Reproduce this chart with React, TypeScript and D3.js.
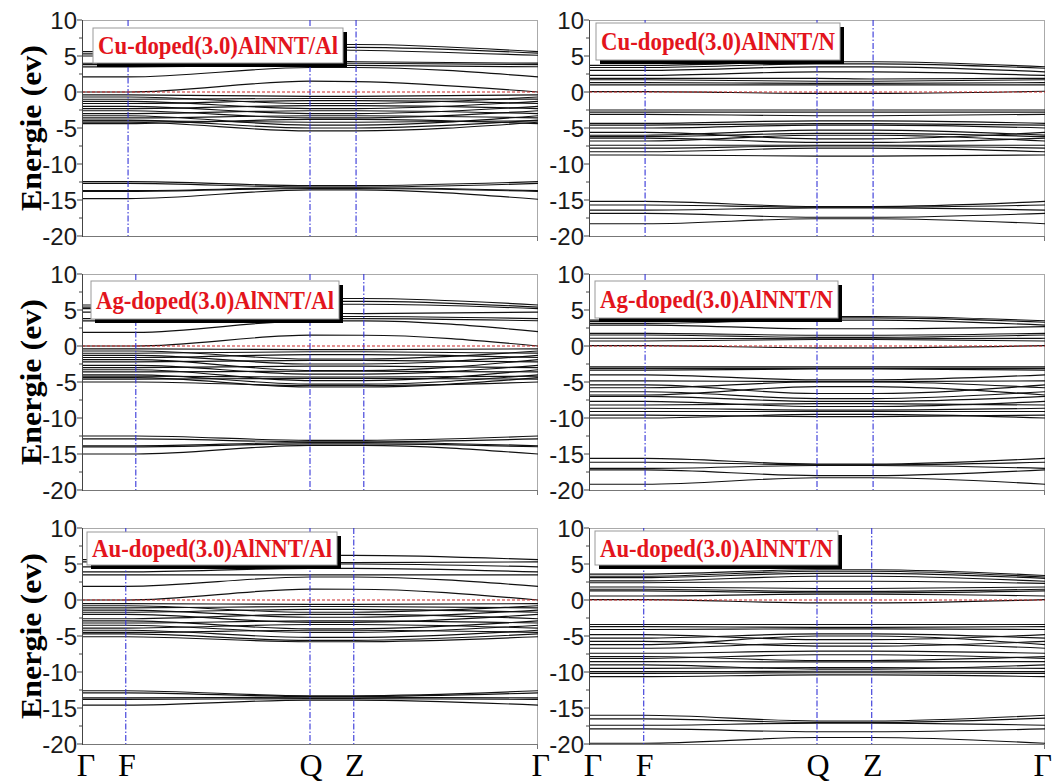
import React from 'react';
import * as d3 from 'd3';

// ---------- data ----------
const kLabels = ['Γ', 'F', 'Q', 'Z', 'Γ'];
const yTicksMajor = [10, 5, 0, -5, -10, -15, -20];
const yTicksMinor = [7.5, 2.5, -2.5, -7.5, -12.5, -17.5];
const yTitle = 'Energie (ev)';

const panelTitles = [
  'Cu-doped(3.0)AlNNT/Al',
  'Cu-doped(3.0)AlNNT/N',
  'Ag-doped(3.0)AlNNT/Al',
  'Ag-doped(3.0)AlNNT/N',
  'Au-doped(3.0)AlNNT/Al',
  'Au-doped(3.0)AlNNT/N',
];

// fractional k positions of Γ, F, Q, Z, Γ per panel
const kPosCuAl = [0, 0.101, 0.5, 0.601, 1];
const kPosCuN = [0, 0.123, 0.5, 0.623, 1];
const kPosAgAl = [0, 0.118, 0.5, 0.618, 1];
const kPosAgN = [0, 0.123, 0.5, 0.623, 1];
const kPosAuAl = [0, 0.096, 0.5, 0.596, 1];
const kPosAuN = [0, 0.12, 0.5, 0.62, 1];

// band energies (eV) at Γ, F, Q, Z, Γ
const bandsCuAl = [
  [5.6, 5.6, 6.6, 6.6, 5.6], [5.3, 5.3, 6.2, 6.2, 5.4], [5.0, 5.0, 5.9, 5.8, 5.1],
  [4.0, 4.0, 4.3, 4.2, 4.0], [3.8, 3.8, 4.0, 4.0, 3.8], [3.5, 3.5, 3.7, 3.7, 3.5],
  [2.1, 2.1, 3.4, 3.4, 2.1], [0.0, 0.0, 1.5, 1.45, 0.0],
  [-0.4, -0.4, -0.6, -0.6, -0.4], [-0.7, -0.7, -1.6, -1.6, -0.7], [-1.0, -1.0, -0.9, -0.9, -1.0],
  [-1.3, -1.3, -2.3, -2.3, -1.3], [-1.6, -1.6, -1.2, -1.2, -1.6], [-2.0, -2.0, -3.0, -3.0, -2.0],
  [-2.3, -2.3, -1.9, -1.9, -2.3], [-2.6, -2.6, -3.6, -3.6, -2.6], [-3.0, -3.0, -2.6, -2.6, -3.0],
  [-3.3, -3.3, -4.6, -4.6, -3.3], [-3.6, -3.6, -3.3, -3.3, -3.6], [-3.9, -3.9, -5.0, -5.0, -3.9],
  [-4.0, -4.0, -4.2, -4.2, -4.0], [-4.2, -4.2, -5.4, -5.4, -4.2], [-4.4, -4.4, -3.8, -3.8, -4.4],
  [-12.45, -12.45, -13.0, -13.0, -12.45], [-12.7, -12.7, -13.2, -13.2, -12.7],
  [-13.7, -13.7, -13.3, -13.3, -13.7], [-13.8, -13.8, -13.4, -13.4, -13.8],
  [-14.8, -14.8, -13.6, -13.6, -14.9],
];

const bandsCuN = [
  [3.7, 3.7, 4.2, 4.2, 3.5], [3.4, 3.4, 3.9, 3.9, 3.3], [3.0, 3.0, 3.5, 3.5, 2.8],
  [2.3, 2.3, 2.8, 2.8, 2.3], [1.9, 1.9, 1.9, 1.8, 1.9], [1.7, 1.7, 1.5, 1.5, 1.7],
  [1.3, 1.3, 1.2, 1.2, 1.3], [1.0, 1.0, 1.0, 1.0, 1.0], [0.05, 0.05, -0.2, -0.2, 0.1],
  [-2.5, -2.5, -2.5, -2.5, -2.5], [-2.8, -2.8, -2.8, -2.8, -2.8], [-3.1, -3.1, -3.3, -3.3, -3.1],
  [-4.35, -4.35, -4.0, -4.0, -4.35], [-4.6, -4.6, -4.4, -4.4, -4.6], [-5.0, -5.0, -4.6, -4.6, -5.0],
  [-5.6, -5.6, -6.5, -6.5, -5.6], [-6.0, -6.0, -5.3, -5.3, -6.0], [-6.2, -6.2, -5.75, -5.75, -6.2],
  [-6.4, -6.4, -7.0, -7.0, -6.4], [-6.8, -6.8, -6.0, -6.0, -6.8], [-7.4, -7.4, -7.4, -7.4, -7.4],
  [-7.8, -7.8, -7.5, -7.5, -7.8], [-8.3, -8.3, -7.8, -7.8, -8.3], [-8.75, -8.75, -8.9, -8.9, -8.75],
  [-15.2, -15.2, -15.9, -15.9, -15.2], [-15.7, -15.7, -16.0, -16.0, -15.7],
  [-16.4, -16.4, -16.1, -16.1, -16.4], [-16.85, -16.85, -17.4, -17.4, -16.85],
  [-18.3, -18.3, -17.6, -17.6, -18.3],
];

const bandsAgAl = [
  [5.7, 5.7, 6.6, 6.6, 5.7], [5.4, 5.4, 6.2, 6.2, 5.4], [5.2, 5.2, 5.8, 5.8, 5.2],
  [4.7, 4.7, 4.6, 4.5, 4.7], [3.8, 3.8, 4.1, 4.1, 3.8], [3.5, 3.5, 3.8, 3.8, 3.5],
  [1.9, 1.9, 3.5, 3.5, 2.0], [0.0, 0.0, 1.5, 1.5, 0.0],
  [-0.4, -0.4, -0.5, -0.5, -0.4], [-0.7, -0.7, -1.8, -1.8, -0.7], [-1.0, -1.0, -0.8, -0.8, -1.0],
  [-1.3, -1.3, -2.5, -2.5, -1.3], [-1.6, -1.6, -1.2, -1.2, -1.6], [-1.9, -1.9, -3.4, -3.4, -1.9],
  [-2.2, -2.2, -2.0, -2.0, -2.2], [-2.7, -2.7, -3.9, -3.9, -2.7], [-3.0, -3.0, -2.8, -2.8, -3.0],
  [-3.3, -3.3, -4.8, -4.8, -3.3], [-3.6, -3.6, -3.5, -3.5, -3.6], [-4.0, -4.0, -5.3, -5.3, -4.0],
  [-4.2, -4.2, -4.3, -4.3, -4.2], [-4.4, -4.4, -5.7, -5.7, -4.4], [-4.6, -4.6, -4.5, -4.5, -4.6],
  [-5.0, -5.0, -5.5, -5.5, -5.0],
  [-12.5, -12.5, -13.1, -13.1, -12.5], [-12.9, -12.9, -13.3, -13.3, -12.9],
  [-13.85, -13.85, -13.4, -13.4, -13.85], [-14.0, -14.0, -13.6, -13.6, -14.0],
  [-15.0, -15.0, -13.8, -13.8, -15.0],
];

const bandsAgN = [
  [3.6, 3.6, 4.1, 4.1, 3.5], [3.4, 3.4, 3.9, 3.9, 3.3], [3.15, 3.15, 3.6, 3.6, 2.9],
  [2.9, 2.9, 2.4, 2.4, 2.7], [1.76, 1.76, 1.5, 1.5, 1.76], [1.53, 1.53, 1.2, 1.2, 1.53],
  [1.07, 1.07, 1.0, 1.0, 1.07], [0.7, 0.7, 0.9, 0.9, 0.7], [0.05, 0.05, -0.25, -0.25, 0.05],
  [-2.9, -2.9, -2.9, -2.9, -2.9], [-3.1, -3.1, -3.1, -3.1, -3.1], [-3.35, -3.35, -3.2, -3.2, -3.35],
  [-4.0, -4.0, -4.7, -4.7, -4.0], [-4.85, -4.85, -4.95, -4.95, -4.85], [-5.4, -5.4, -6.6, -6.6, -5.4],
  [-5.8, -5.8, -5.0, -5.0, -5.8], [-6.35, -6.35, -7.3, -7.3, -6.35], [-6.8, -6.8, -5.65, -5.65, -6.8],
  [-7.0, -7.0, -7.7, -7.7, -7.0], [-7.7, -7.7, -8.4, -8.4, -7.7], [-8.2, -8.2, -8.0, -8.0, -8.2],
  [-8.65, -8.65, -8.9, -8.9, -8.65], [-9.1, -9.1, -9.1, -9.1, -9.1], [-9.6, -9.6, -9.8, -9.8, -9.6],
  [-10.0, -10.0, -9.5, -9.5, -10.0],
  [-15.6, -15.6, -16.4, -16.4, -15.6], [-16.15, -16.15, -16.5, -16.5, -16.15],
  [-17.0, -17.0, -16.6, -16.6, -17.0], [-17.2, -17.2, -18.0, -18.0, -17.2],
  [-19.2, -19.2, -18.3, -18.3, -19.2],
];

const bandsAuAl = [
  [5.6, 5.6, 6.2, 6.2, 5.6], [5.3, 5.3, 5.2, 5.2, 5.3], [4.6, 4.6, 5.0, 5.0, 4.6],
  [3.9, 3.9, 4.4, 4.4, 3.9], [3.5, 3.5, 3.5, 3.5, 3.5], [1.9, 1.9, 3.2, 3.2, 1.9],
  [0.0, 0.0, 1.5, 1.5, 0.0],
  [-0.5, -0.5, -0.6, -0.6, -0.5], [-0.8, -0.8, -1.7, -1.7, -0.8], [-1.1, -1.1, -0.9, -0.9, -1.1],
  [-1.4, -1.4, -2.4, -2.4, -1.4], [-1.7, -1.7, -1.3, -1.3, -1.7], [-2.0, -2.0, -3.1, -3.1, -2.0],
  [-2.6, -2.6, -2.0, -2.0, -2.6], [-2.9, -2.9, -4.0, -4.0, -2.9], [-3.2, -3.2, -2.9, -2.9, -3.2],
  [-3.5, -3.5, -4.5, -4.5, -3.5], [-3.9, -3.9, -3.4, -3.4, -3.9], [-4.2, -4.2, -5.2, -5.2, -4.2],
  [-4.5, -4.5, -4.2, -4.2, -4.5], [-4.7, -4.7, -5.6, -5.6, -4.7], [-5.1, -5.1, -5.8, -5.8, -5.1],
  [-12.6, -12.6, -13.3, -13.3, -12.6], [-12.9, -12.9, -13.4, -13.4, -12.9],
  [-13.6, -13.6, -13.5, -13.5, -13.6], [-13.8, -13.8, -13.7, -13.7, -13.8],
  [-14.6, -14.6, -13.9, -13.9, -14.6],
];

const bandsAuN = [
  [3.6, 3.6, 4.2, 4.2, 3.4], [3.3, 3.3, 4.0, 4.0, 3.2], [3.1, 3.1, 3.7, 3.7, 3.0],
  [2.66, 2.66, 3.3, 3.3, 2.6], [2.4, 2.4, 2.6, 2.6, 2.3], [1.8, 1.8, 1.6, 1.6, 1.8],
  [1.5, 1.5, 1.2, 1.2, 1.5], [1.26, 1.26, 1.0, 1.0, 1.26], [0.56, 0.56, 0.8, 0.8, 0.56],
  [0.05, 0.05, -0.4, -0.4, 0.05],
  [-3.4, -3.4, -3.4, -3.4, -3.4], [-3.7, -3.7, -3.8, -3.8, -3.7], [-4.1, -4.1, -4.0, -4.0, -4.1],
  [-4.8, -4.8, -5.5, -5.5, -4.8], [-5.3, -5.3, -4.7, -4.7, -5.3], [-5.75, -5.75, -6.4, -6.4, -5.75],
  [-6.2, -6.2, -5.0, -5.0, -6.2], [-6.7, -6.7, -6.0, -6.0, -6.7], [-7.4, -7.4, -7.1, -7.1, -7.4],
  [-7.85, -7.85, -8.4, -8.4, -7.85], [-8.1, -8.1, -7.6, -7.6, -8.1], [-8.55, -8.55, -8.6, -8.6, -8.55],
  [-9.0, -9.0, -9.6, -9.6, -9.0], [-9.5, -9.5, -9.4, -9.4, -9.5], [-9.95, -9.95, -9.9, -9.9, -9.95],
  [-10.2, -10.2, -10.1, -10.1, -10.2], [-10.65, -10.65, -10.4, -10.4, -10.65],
  [-16.0, -16.0, -16.8, -16.8, -16.0], [-16.5, -16.5, -17.0, -17.0, -16.4],
  [-17.4, -17.4, -17.1, -17.1, -17.4], [-17.9, -17.9, -18.3, -18.3, -17.9],
  [-19.9, -19.9, -19.1, -19.1, -19.9],
];

// ---------- layout ----------
const PW = 456;
const PH = 216;
const colX = [82, 589];
const rowY = [20, 274, 528];
// label box: dx, dy, width, height (relative to panel origin)
const labelBoxes = [
  [11, 8, 250, 35],
  [7, 3, 244, 37],
  [9, 7, 248, 38],
  [6, 7, 243, 37],
  [5, 4, 250, 33],
  [6, 3, 243, 34],
];

const panels = [
  { title: panelTitles[0], kPos: kPosCuAl, bands: bandsCuAl },
  { title: panelTitles[1], kPos: kPosCuN, bands: bandsCuN },
  { title: panelTitles[2], kPos: kPosAgAl, bands: bandsAgAl },
  { title: panelTitles[3], kPos: kPosAgN, bands: bandsAgN },
  { title: panelTitles[4], kPos: kPosAuAl, bands: bandsAuAl },
  { title: panelTitles[5], kPos: kPosAuN, bands: bandsAuN },
];

const x = d3.scaleLinear().domain([0, 1]).range([0, PW]);
const y = d3.scaleLinear().domain([-20, 10]).range([PH, 0]);

function Panel({ idx }: { idx: number }) {
  const p = panels[idx];
  const col = idx % 2;
  const row = Math.floor(idx / 2);
  const ox = colX[col];
  const oy = rowY[row];
  const line = d3
    .line<number>()
    .x((_, i) => x(p.kPos[i]))
    .y((d) => y(d))
    .curve(d3.curveMonotoneX);
  const [bx, by, bw, bh] = labelBoxes[idx];
  const clipId = `clip${idx}`;
  return (
    <g transform={`translate(${ox},${oy})`}>
      <defs>
        <clipPath id={clipId}>
          <rect x={0} y={0} width={PW} height={PH} />
        </clipPath>
      </defs>
      {/* frame */}
      <line x1={0} y1={0.5} x2={PW} y2={0.5} stroke="#aaa" strokeWidth={1} />
      <line x1={PW - 0.5} y1={0} x2={PW - 0.5} y2={PH} stroke="#aaa" strokeWidth={1} />
      <g clipPath={`url(#${clipId})`}>
        {p.bands.map((b, i) => (
          <path key={i} d={line(b) || ''} fill="none" stroke="#111" strokeWidth={1.15} />
        ))}
        {p.kPos.slice(1, 4).map((k, i) => (
          <line
            key={'v' + i}
            x1={x(k)}
            x2={x(k)}
            y1={0}
            y2={PH}
            stroke="#3535d8"
            strokeWidth={1.1}
            strokeDasharray="6,2,1.5,2"
          />
        ))}
        <line x1={0} x2={PW} y1={y(0)} y2={y(0)} stroke="#cc2a2a" strokeWidth={1.2} strokeDasharray="3,2" />
      </g>
      {/* bottom axis */}
      <line x1={0} y1={PH + 0.5} x2={PW} y2={PH + 0.5} stroke="#777" strokeWidth={1} />
      <line x1={PW - 0.5} y1={PH} x2={PW - 0.5} y2={PH + 5} stroke="#777" strokeWidth={1} />
      {/* left axis */}
      <line x1={0.5} y1={0} x2={0.5} y2={PH + 1} stroke="#444" strokeWidth={1} />
      {yTicksMajor.map((t) => (
        <g key={'t' + t}>
          <line x1={-5} x2={0} y1={y(t)} y2={y(t)} stroke="#444" strokeWidth={1} />
          <text
            x={-5}
            y={y(t) + 8.5}
            textAnchor="end"
            fontFamily="'Liberation Sans', Arial, sans-serif"
            fontSize={24}
            fill="#1a1a1a"
          >
            {t}
          </text>
        </g>
      ))}
      {yTicksMinor.map((t) => (
        <line key={'m' + t} x1={-3} x2={0} y1={y(t)} y2={y(t)} stroke="#444" strokeWidth={1} />
      ))}
      {/* label box */}
      <rect x={bx + 4} y={by + 4} width={bw} height={bh} fill="#000" />
      <rect x={bx} y={by} width={bw} height={bh} fill="#fff" stroke="#999" strokeWidth={1} />
      <text
        x={bx + 5}
        y={by + bh / 2 + 8.5}
        fontFamily="'Liberation Serif', 'Times New Roman', serif"
        fontWeight="bold"
        fontSize={25}
        fill="#e3141c"
        textLength={bw - 10}
        lengthAdjust="spacingAndGlyphs"
      >
        {p.title}
      </text>
      {/* y title */}
      {col === 0 && (
        <text
          transform={`translate(${41 - ox},${PH / 2}) rotate(-90)`}
          textAnchor="middle"
          fontFamily="'Liberation Serif', 'Times New Roman', serif"
          fontWeight="bold"
          fontSize={30}
          fill="#000"
          textLength={166}
          lengthAdjust="spacingAndGlyphs"
        >
          {yTitle}
        </text>
      )}
      {/* x labels */}
      {row === 2 &&
        p.kPos.map((k, i) => (
          <text
            key={'k' + i}
            x={i === 4 ? Math.min(x(k) + 12, 1052 - ox) : x(k) + (i === 0 ? 4 : 1)}
            y={PH + 32}
            textAnchor={i === 4 ? 'end' : 'middle'}
            fontFamily="'Liberation Serif', 'Times New Roman', serif"
            fontSize={32}
            fill="#000"
          >
            {kLabels[i]}
          </text>
        ))}
    </g>
  );
}

export default function App() {
  return (
    <svg width={1053} height={784} style={{ position: 'absolute', left: 0, top: 0, background: '#fff' }}>
      <rect x={0} y={0} width={1053} height={784} fill="#fff" />
      {panels.map((_, i) => (
        <Panel key={i} idx={i} />
      ))}
    </svg>
  );
}
